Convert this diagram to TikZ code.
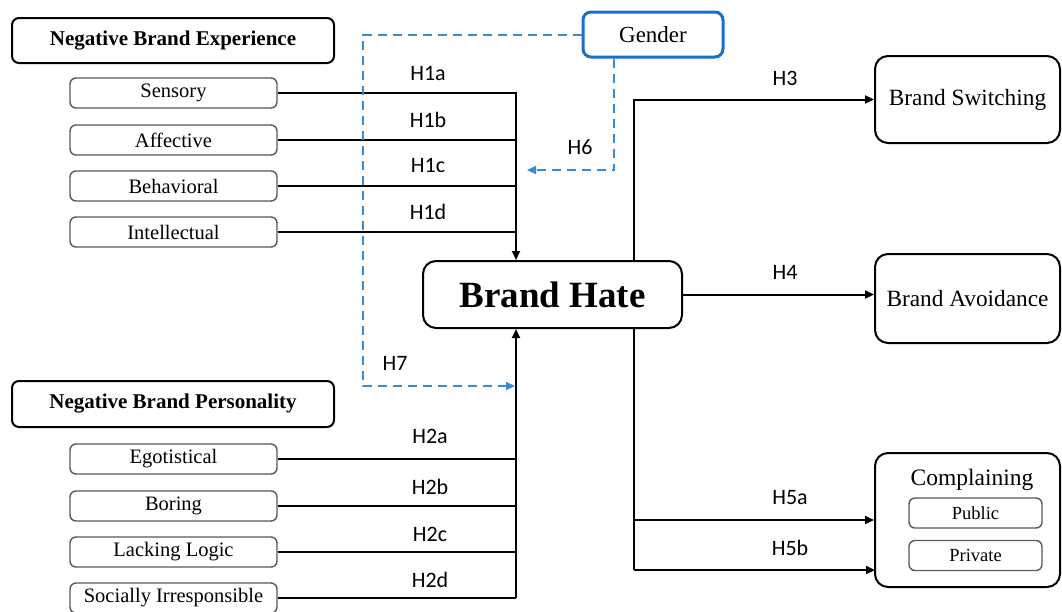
\documentclass[tikz,border=0pt]{standalone}
\usepackage{fontspec}
\setmainfont{Liberation Serif}
\newfontfamily\lblfont{Carlito}
\usetikzlibrary{arrows.meta}
\definecolor{gblue}{RGB}{25,112,200}
\definecolor{dblue}{RGB}{55,140,215}
\begin{document}
\begin{tikzpicture}[x=1pt,y=-1pt,
  headbox/.style={draw=black,line width=2pt,rounded corners=7pt,inner sep=0pt,minimum width=322pt,minimum height=45pt,font=\bfseries\fontsize{21}{25}\selectfont},
  subbox/.style={draw=black!65,line width=1.4pt,rounded corners=6pt,inner sep=0pt,minimum width=207pt,minimum height=30pt,font=\fontsize{20.5}{24}\selectfont},
  outbox/.style={draw=black,line width=2pt,rounded corners=13pt,inner sep=0pt,minimum width=185pt,font=\fontsize{23.3}{27}\selectfont},
  smallbox/.style={draw=black!65,line width=1.4pt,rounded corners=6pt,inner sep=0pt,minimum width=133pt,minimum height=30pt,font=\fontsize{18.5}{22}\selectfont},
  hlabel/.style={inner sep=0pt,font=\lblfont\fontsize{22}{26}\selectfont},
  conn/.style={line width=2pt,black},
  arr/.style={conn,-{Triangle[length=9pt,width=8pt]}},
  blu/.style={line width=2pt,dblue,dash pattern=on 9pt off 6pt},
  bluarr/.style={blu,-{Triangle[length=9pt,width=8pt]}}
]
\useasboundingbox (0,0) rectangle (1062,611);
\fill[white] (0,0) rectangle (1062,611);

% left headers
\node[headbox] (nbe) at (173,40.5) {Negative Brand Experience};
\node[headbox,minimum height=46pt] (nbp) at (173,404) {Negative Brand Personality};

% experience dimensions
\node[subbox] (sen) at (173.5,93) {Sensory};
\node[subbox] (aff) at (173.5,140) {Affective};
\node[subbox] (beh) at (173.5,186) {Behavioral};
\node[subbox] (int) at (173.5,232) {Intellectual};

% personality dimensions
\node[subbox] (ego) at (173.5,459) {Egotistical};
\node[subbox] (bor) at (173.5,506) {Boring};
\node[subbox] (lac) at (173.5,552) {Lacking Logic};
\node[subbox] (soc) at (173.5,598) {Socially Irresponsible};

% central
\node[draw=black,line width=2pt,rounded corners=13pt,inner sep=0pt,minimum width=259pt,minimum height=67pt,font=\bfseries\fontsize{37}{40}\selectfont] (bh) at (552.5,294.5) {Brand Hate};

% gender
\node[draw=gblue,line width=3pt,rounded corners=8pt,inner sep=0pt,minimum width=140pt,minimum height=45pt,font=\fontsize{23}{27}\selectfont] (gen) at (653,34.5) {Gender};

% outcomes
\node[outbox,minimum height=87pt] (bsw) at (967.5,99.5) {Brand Switching};
\node[outbox,minimum height=89pt] (bav) at (967.5,298.5) {Brand Avoidance};
\node[outbox,minimum height=134pt] (cmp) at (967.5,520) {};
\node[inner sep=0pt,font=\fontsize{23.5}{27}\selectfont] (cmpt) at (972,480) {Complaining};
\node[smallbox] (pub) at (975.5,513) {Public};
\node[smallbox] (pri) at (975.5,555.5) {Private};

% junction coordinates
\coordinate (jx) at (516,0);
\coordinate (rx) at (634,0);
\coordinate (gx) at (614,0);
\coordinate (bx) at (363,0);
\coordinate (h6t) at (527,170);
\coordinate (h7t) at (515,386);
\coordinate (h5b) at (875,570);

% H1 lines
\draw[conn] (sen.east) -- (sen.east -| jx) -- (int.east -| jx);
\draw[conn] (aff.east) -- (aff.east -| jx);
\draw[conn] (beh.east) -- (beh.east -| jx);
\draw[conn] (int.east) -- (int.east -| jx);
\draw[arr] (int.east -| jx) -- (bh.north -| jx);

% H2 lines
\draw[conn] (ego.east) -- (ego.east -| jx);
\draw[conn] (bor.east) -- (bor.east -| jx);
\draw[conn] (lac.east) -- (lac.east -| jx);
\draw[conn] (soc.east) -- (soc.east -| jx);
\draw[arr] (soc.east -| jx) -- (bh.south -| jx);

% outcomes
\draw[arr] (bh.north -| rx) |- (bsw.west);
\draw[arr] (bh.east) -- (bh.east -| bav.west);
\draw[conn] (bh.south -| rx) -- (h5b -| rx);
\draw[arr] (cmp.west -| rx) -- (cmp.west);
\draw[arr] (h5b -| rx) -- (h5b);

% moderator
\draw[bluarr] (gen.south -| gx) |- (h6t);
\draw[bluarr] (gen.west) -| (h7t -| bx) -- (h7t);

% labels
\node[hlabel] (l1a) at (428,73) {H1a};
\node[hlabel] (l1b) at (428,120) {H1b};
\node[hlabel] (l1c) at (428,165) {H1c};
\node[hlabel] (l1d) at (428,212) {H1d};
\node[hlabel] (l2a) at (430,436) {H2a};
\node[hlabel] (l2b) at (430,487) {H2b};
\node[hlabel] (l2c) at (430,534) {H2c};
\node[hlabel] (l2d) at (430,580) {H2d};
\node[hlabel] (l3) at (785,78) {H3};
\node[hlabel] (l4) at (785,272) {H4};
\node[hlabel] (l5a) at (790,498) {H5a};
\node[hlabel] (l5b) at (790,548) {H5b};
\node[hlabel] (l6) at (580,147) {H6};
\node[hlabel] (l7) at (395,363) {H7};
\end{tikzpicture}
\end{document}
